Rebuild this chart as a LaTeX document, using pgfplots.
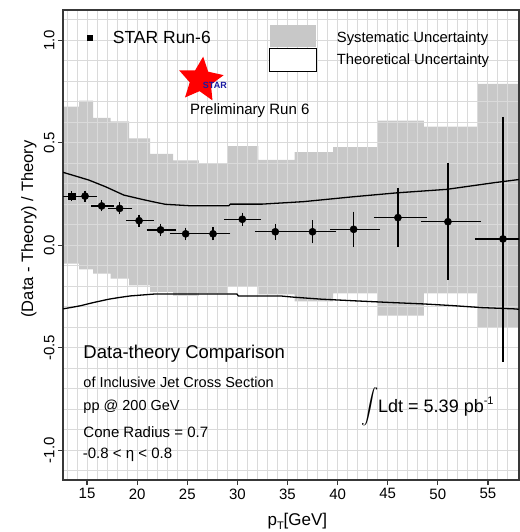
\documentclass[border=0pt]{standalone}
\usepackage{exscale}
\usepackage{fontspec}
\setmainfont{Liberation Sans}
\usepackage{pgfplots}
\pgfplotsset{compat=1.18}
\usetikzlibrary{shapes.geometric}
\definecolor{bandgray}{HTML}{C8C8C8}
\definecolor{gridgray}{HTML}{DADADA}
\definecolor{axisgray}{HTML}{383838}
\definecolor{starblue}{HTML}{1A1AA0}
\begin{document}
\begin{tikzpicture}
\begin{axis}[
  set layers,
  scale only axis, width=456pt, height=470pt,
  at={(0pt,0pt)}, anchor=south west,
  xmin=12.6, xmax=58.1, ymin=-1.145, ymax=1.148,
  xtick={15,20,25,30,35,40,45,50,55},
  ytick={-1,-0.5,0,0.5,1},
  yticklabels={-1.0,-0.5,0.0,0.5,1.0},
  minor xtick={13,14,...,58},
  minor ytick={-1.1,-0.9,-0.8,-0.7,-0.6,-0.4,-0.3,-0.2,-0.1,0.1,0.2,0.3,0.4,0.6,0.7,0.8,0.9,1.1},
  grid=both,
  major grid style={draw=gridgray, line width=1pt},
  minor grid style={draw=gridgray, line width=1pt},
  tick align=outside, tick pos=left,
  major tick length=5pt, minor tick length=0pt,
  axis line style={draw=axisgray, line width=1.3pt},
  major tick style={draw=axisgray, line width=1.2pt},
  /pgf/number format/assume math mode=true,
  yticklabel style={rotate=90, anchor=south, font=\fontsize{15}{15}\selectfont},
  xticklabel style={font=\fontsize{15}{15}\selectfont},
  xlabel={p\raisebox{-0.4ex}{\fontsize{11}{11}\selectfont T}[GeV]},
  xlabel style={at={(axis description cs:0.514,-0.0975)}, anchor=base, font=\fontsize{17}{17}\selectfont},
  ylabel={(Data - Theory) / Theory},
  ylabel style={at={(axis description cs:-0.0746,0.534)}, anchor=center, font=\fontsize{16.5}{16.5}\selectfont},
  legend style={at={(axis description cs:0.0445,0.941)}, anchor=west, draw=none, fill=none, font=\fontsize{17.5}{17.5}\selectfont},
]
% systematic uncertainty band
\addplot[fill=bandgray, draw=none, on layer=axis background, forget plot] coordinates {
(12.6,0.677)(14.2,0.677)(14.2,0.706)(15.6,0.706)(15.6,0.622)(17.35,0.622)(17.35,0.605)(19.2,0.605)(19.2,0.522)(21.3,0.522)(21.3,0.446)(23.6,0.446)(23.6,0.414)(26.15,0.414)(26.15,0.398)(29.0,0.398)(29.0,0.484)(32.1,0.484)(32.1,0.417)(35.7,0.417)(35.7,0.454)(39.55,0.454)(39.55,0.479)(43.95,0.479)(43.95,0.608)(48.6,0.608)(48.6,0.579)(54.0,0.579)(54.0,0.787)(58.9,0.787)
(58.9,-0.398)(54.0,-0.398)(54.0,-0.235)(48.6,-0.235)(48.6,-0.343)(43.95,-0.343)(43.95,-0.235)(39.55,-0.235)(39.55,-0.273)(35.7,-0.273)(35.7,-0.240)(32.1,-0.240)(32.1,-0.200)(29.0,-0.200)(29.0,-0.235)(26.15,-0.235)(26.15,-0.245)(23.6,-0.245)(23.6,-0.227)(21.3,-0.227)(21.3,-0.195)(19.2,-0.195)(19.2,-0.162)(17.35,-0.162)(17.35,-0.138)(15.6,-0.138)(15.6,-0.118)(14.2,-0.118)(14.2,-0.089)(12.6,-0.089)};
% theoretical uncertainty
\addplot[black, line width=1.3pt, sharp plot, forget plot] coordinates {
(12.6,0.356)(13.5,0.343)(15.2,0.318)(16.83,0.286)(18.67,0.245)(20.5,0.224)(22.0,0.208)(22.82,0.200)(25.3,0.193)(29.14,0.193)(29.3,0.201)(32.5,0.201)(36.6,0.213)(41.6,0.237)(45.93,0.256)(50.9,0.273)(55.55,0.305)(58.1,0.321)};
\addplot[black, line width=1.3pt, sharp plot, forget plot] coordinates {
(12.6,-0.310)(13.33,-0.304)(14.33,-0.295)(15.66,-0.279)(17.16,-0.263)(18.16,-0.255)(19.32,-0.247)(21.65,-0.238)(29.96,-0.238)(30.1,-0.247)(34.29,-0.247)(35.6,-0.253)(38.44,-0.263)(41.76,-0.271)(45.25,-0.279)(48.57,-0.286)(51.4,-0.294)(54.4,-0.304)(57.56,-0.310)(58.1,-0.312)};
% data
\addplot[black, only marks, mark=*, mark size=3.6pt, forget plot,
  error bars/.cd, x dir=both, x explicit, y dir=both, y explicit,
  error bar style={line width=1.2pt, black},
  error mark options={black, mark size=3pt, line width=1.2pt}]
  table[x=x, y=y, x error minus=xm, x error plus=xp, y error minus=ym, y error plus=yp] {
x y xm xp ym yp
14.80 0.240 0.77 0.90 0.012 0.012
16.46 0.192 0.76 0.89 0.012 0.012
18.25 0.180 0.90 0.94 0.015 0.015
20.19 0.120 1.00 1.15 0.015 0.015
22.34 0.075 1.10 1.27 0.016 0.016
24.84 0.056 1.23 1.33 0.016 0.016
27.57 0.056 1.40 1.43 0.017 0.017
30.49 0.127 1.49 1.56 0.018 0.018
33.78 0.066 1.73 1.82 0.024 0.024
37.50 0.066 1.90 2.04 0.042 0.042
41.60 0.078 2.06 2.33 0.072 0.072
46.02 0.135 2.09 2.63 0.130 0.131
51.01 0.115 2.36 2.99 0.268 0.271
56.50 0.031 2.50 2.50 0.584 0.581
};
\addplot[black, only marks, mark=square*, mark size=3.4pt, forget plot,
  error bars/.cd, x dir=both, x explicit, y dir=both, y explicit,
  error bar style={line width=1.2pt, black},
  error mark options={black, mark size=3pt, line width=1.2pt}]
  table[x=x, y=y, x error minus=xm, x error plus=xp, y error minus=ym, y error plus=yp] {
x y xm xp ym yp
13.43 0.240 0.93 0.60 0.010 0.010
};
\addlegendimage{legend image code/.code={\fill[black] (-2.7pt,-2.7pt) rectangle (2.7pt,2.7pt); \path (-3pt,0pt) (21pt,0pt);}}
\addlegendentry{STAR Run-6}
% legend boxes on the right
\fill[bandgray] (axis description cs:0.4539,0.9219) rectangle (axis description cs:0.5548,0.9681);
\draw[black, line width=1.2pt, fill=white] (axis description cs:0.4524,0.8687) rectangle (axis description cs:0.5564,0.9185);
\node[anchor=base west, inner sep=0pt, font=\fontsize{14.8}{14.8}\selectfont] at (axis description cs:0.6002,0.9313) {Systematic Uncertainty};
\node[anchor=base west, inner sep=0pt, font=\fontsize{14.8}{14.8}\selectfont] at (axis description cs:0.6002,0.883) {Theoretical Uncertainty};
% STAR logo
\node[star, star points=5, star point ratio=2.1, fill=red, draw=none, minimum size=47pt, inner sep=0pt, rotate=-6] at (axis description cs:0.302,0.851) {};
\node[inner sep=0pt, text=starblue, font=\bfseries\fontsize{9}{9}\selectfont] at (axis description cs:0.333,0.840) {STAR};
\node[anchor=base west, inner sep=0pt, font=\fontsize{15}{15}\selectfont] at (axis description cs:0.2785,0.7766) {Preliminary Run 6};
% description
\node[anchor=base west, inner sep=0pt, font=\fontsize{18.5}{18.5}\selectfont] at (axis description cs:0.0445,0.2589) {Data-theory Comparison};
\node[anchor=base west, inner sep=0pt, font=\fontsize{14.5}{14.5}\selectfont] at (axis description cs:0.0445,0.1972) {of Inclusive Jet Cross Section};
\node[anchor=base west, inner sep=0pt, font=\fontsize{14.5}{14.5}\selectfont] at (axis description cs:0.0445,0.1483) {pp @ 200 GeV};
\node[anchor=base west, inner sep=0pt, font=\fontsize{15}{15}\selectfont] at (axis description cs:0.0445,0.0909) {Cone Radius = 0.7};
\node[anchor=base west, inner sep=0pt, font=\fontsize{15}{15}\selectfont] at (axis description cs:0.0432,0.0447) {-0.8 < η < 0.8};
\node[inner sep=0pt, font=\fontsize{17}{17}\selectfont] at (axis description cs:0.6732,0.156) {$\displaystyle\int$};
\node[anchor=base west, inner sep=0pt, font=\fontsize{18}{18}\selectfont] at (axis description cs:0.6908,0.1432) {Ldt = 5.39 pb\raisebox{0.9ex}{\fontsize{11}{11}\selectfont -1}};
\end{axis}
\pgfresetboundingbox
\useasboundingbox (-63pt,-52pt) rectangle (456pt,480pt);
\end{tikzpicture}
\end{document}
